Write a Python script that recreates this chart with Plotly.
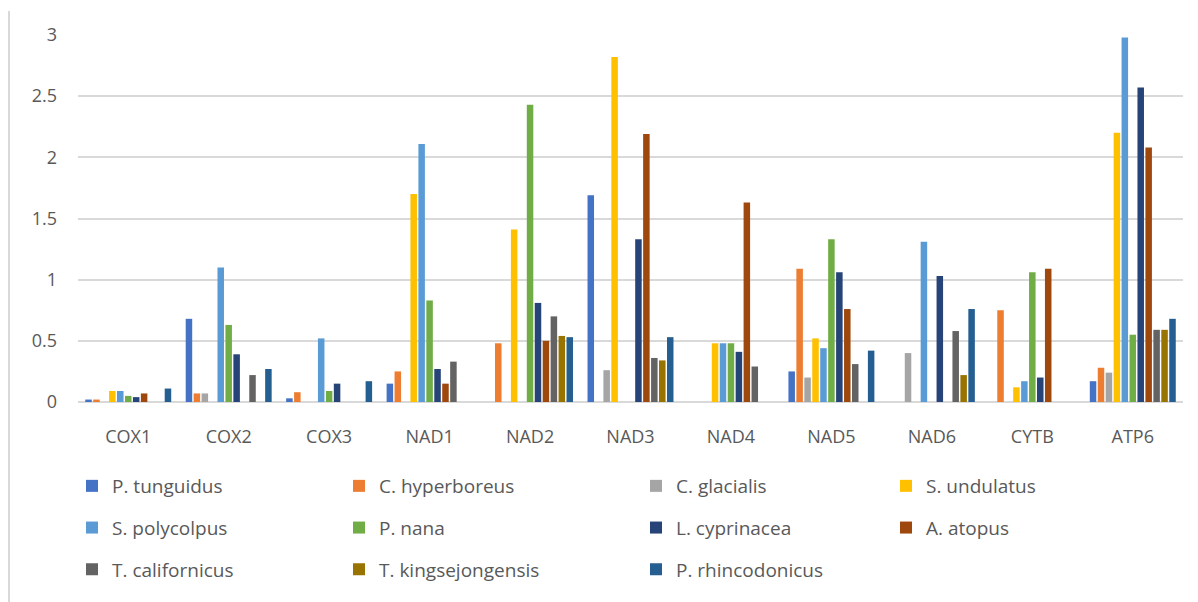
import plotly.graph_objects as go

genes = ["COX1", "COX2", "COX3", "NAD1", "NAD2", "NAD3", "NAD4", "NAD5", "NAD6", "CYTB", "ATP6"]

species = ["P. tunguidus", "C. hyperboreus", "C. glacialis", "S. undulatus",
           "S. polycolpus", "P. nana", "L. cyprinacea", "A. atopus",
           "T. californicus", "T. kingsejongensis", "P. rhincodonicus"]

# values per species, in gene order (None = no bar)
p_tunguidus = [0.02, 0.68, 0.03, 0.15, None, 1.69, None, 0.25, None, None, 0.17]
c_hyperboreus = [0.02, 0.07, 0.08, 0.25, 0.48, None, None, 1.09, None, 0.75, 0.28]
c_glacialis = [None, 0.07, None, None, None, 0.26, None, 0.20, 0.40, None, 0.24]
s_undulatus = [0.09, None, None, 1.70, 1.41, 2.82, 0.48, 0.52, None, 0.12, 2.20]
s_polycolpus = [0.09, 1.10, 0.52, 2.11, None, None, 0.48, 0.44, 1.31, 0.17, 2.98]
p_nana = [0.05, 0.63, 0.09, 0.83, 2.43, None, 0.48, 1.33, None, 1.06, 0.55]
l_cyprinacea = [0.04, 0.39, 0.15, 0.27, 0.81, 1.33, 0.41, 1.06, 1.03, 0.20, 2.57]
a_atopus = [0.07, None, None, 0.15, 0.50, 2.19, 1.63, 0.76, None, 1.09, 2.08]
t_californicus = [None, 0.22, None, 0.33, 0.70, 0.36, 0.29, 0.31, 0.58, None, 0.59]
t_kingsejongensis = [None, None, None, None, 0.54, 0.34, None, None, 0.22, None, 0.59]
p_rhincodonicus = [0.11, 0.27, 0.17, None, 0.53, 0.53, None, 0.42, 0.76, None, 0.68]

series = [p_tunguidus, c_hyperboreus, c_glacialis, s_undulatus, s_polycolpus, p_nana,
          l_cyprinacea, a_atopus, t_californicus, t_kingsejongensis, p_rhincodonicus]

colors = ["#4472C4", "#ED7D31", "#A5A5A5", "#FFC000", "#5B9BD5", "#70AD47",
          "#264478", "#9E480E", "#636363", "#997300", "#255E91"]

y_ticks = [0, 0.5, 1, 1.5, 2, 2.5, 3]
y_tick_text = ["0", "0.5", "1", "1.5", "2", "2.5", "3"]

FONT = "Open Sans"
TEXT = "#595959"
GRID = "#D9D9D9"

W, H = 1198, 602
L, R, T, B = 78, 15, 35, 200
plot_w = W - L - R
plot_h = H - T - B

# legend layout: four columns, three rows
col_px = [72, 339, 636, 886]
row_top_px = 467
legend_of = ["legend", "legend2", "legend3", "legend4"] * 3

fig = go.Figure()
for i, (name, vals, col) in enumerate(zip(species, series, colors)):
    fig.add_trace(go.Bar(
        x=genes, y=vals, name=name,
        marker=dict(color=col, line=dict(width=0)),
        legend=legend_of[i], legendgroup=name,
        hoverinfo="x+y+name",
    ))

legend_common = dict(
    orientation="v",
    yanchor="top", xanchor="left",
    font=dict(family=FONT, size=19, color=TEXT),
    bgcolor="rgba(0,0,0,0)",
    tracegroupgap=14,
    itemwidth=30,
    traceorder="grouped",
)
legends = {}
for k, px in enumerate(col_px):
    key = "legend" if k == 0 else f"legend{k + 1}"
    legends[key] = dict(
        legend_common,
        x=(px - L) / plot_w,
        y=(H - B - row_top_px) / plot_h,
    )

fig.update_layout(
    width=W, height=H,
    margin=dict(l=L, r=R, t=T, b=B, autoexpand=False),
    paper_bgcolor="white", plot_bgcolor="white",
    barmode="group", bargap=0.13, bargroupgap=0.18,
    font=dict(family=FONT, color=TEXT),
    showlegend=True,
    **legends,
)
fig.update_xaxes(
    showgrid=False, zeroline=False, showline=False, ticks="",
    tickfont=dict(family=FONT, size=18, color=TEXT),
    ticklabelstandoff=22,
)
fig.update_yaxes(
    range=[0, 3], tickvals=y_ticks, ticktext=y_tick_text,
    showgrid=True, gridcolor=GRID, gridwidth=1.5,
    zeroline=True, zerolinecolor=GRID, zerolinewidth=1.5,
    showline=False, ticks="",
    tickfont=dict(family=FONT, size=18, color=TEXT),
    ticklabelstandoff=20,
)

# thin frame edge on the left side of the chart area
fig.add_shape(
    type="line", xref="paper", yref="paper",
    x0=(9 - L) / plot_w, x1=(9 - L) / plot_w,
    y0=(H - B - H) / plot_h, y1=(H - B - 11) / plot_h,
    line=dict(color=GRID, width=2), layer="below",
)

fig.write_html("out.html")
